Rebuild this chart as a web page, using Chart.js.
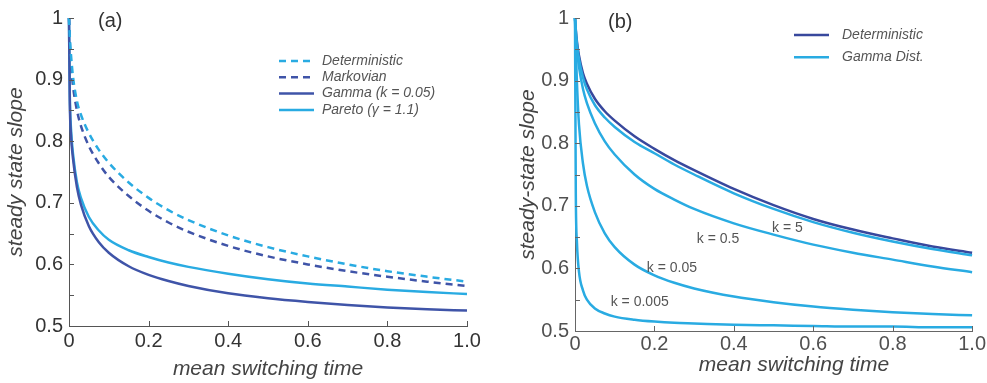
<!DOCTYPE html>
<html><head><meta charset="utf-8">
<script src="https://cdn.jsdelivr.net/npm/chart.js@4.4.1/dist/chart.umd.min.js"></script>
<style>
html,body{margin:0;padding:0;background:#fff;width:987px;height:383px;overflow:hidden}
#wa{position:absolute;left:0;top:0;width:490px;height:383px}
#wb{position:absolute;left:495px;top:0;width:492px;height:383px}
</style></head><body>
<div id="wa"><canvas id="ca" width="490" height="383"></canvas></div>
<div id="wb"><canvas id="cb" width="492" height="383"></canvas></div>
<script>
// ---- data (x = mean switching time, y = steady state slope) ----
const xGrid = [0, 0.002, 0.005, 0.01, 0.02, 0.03, 0.05, 0.075, 0.1, 0.15, 0.2, 0.25, 0.3, 0.4, 0.5, 0.6, 0.7, 0.8, 0.9, 1.0];

// panel (a)
const detA    = [1, 0.97, 0.94, 0.905, 0.865, 0.843, 0.813, 0.786, 0.765, 0.733, 0.708, 0.688, 0.672, 0.647, 0.628, 0.613, 0.600, 0.589, 0.580, 0.572];
const markA   = [1, 0.96, 0.925, 0.89, 0.85, 0.825, 0.792, 0.764, 0.742, 0.711, 0.687, 0.668, 0.653, 0.630, 0.613, 0.600, 0.589, 0.580, 0.572, 0.565];
const gammaA  = [1, 0.865, 0.81, 0.772, 0.725, 0.697, 0.662, 0.636, 0.619, 0.597, 0.583, 0.573, 0.565, 0.553, 0.545, 0.539, 0.534, 0.530, 0.527, 0.525];
const paretoA = [1, 0.875, 0.82, 0.78, 0.733, 0.708, 0.677, 0.655, 0.640, 0.623, 0.612, 0.603, 0.596, 0.585, 0.576, 0.569, 0.564, 0.559, 0.555, 0.552];
const legendA = ['Deterministic', 'Markovian', 'Gamma (k = 0.05)', 'Pareto (\u03B3 = 1.1)'];

// panel (b)
const detB  = [1, 0.982, 0.962, 0.94, 0.912, 0.895, 0.871, 0.851, 0.836, 0.811, 0.791, 0.773, 0.757, 0.727, 0.701, 0.679, 0.662, 0.648, 0.635, 0.625];
const k5    = [1, 0.98, 0.958, 0.935, 0.905, 0.886, 0.861, 0.841, 0.826, 0.802, 0.784, 0.766, 0.750, 0.720, 0.695, 0.674, 0.657, 0.643, 0.631, 0.621];
const k05   = [1, 0.972, 0.948, 0.922, 0.887, 0.864, 0.832, 0.803, 0.782, 0.750, 0.727, 0.710, 0.695, 0.672, 0.654, 0.638, 0.625, 0.614, 0.603, 0.594];
const k005  = [1, 0.95, 0.895, 0.83, 0.768, 0.732, 0.69, 0.656, 0.634, 0.606, 0.589, 0.577, 0.568, 0.555, 0.546, 0.539, 0.534, 0.530, 0.527, 0.525];
const k0005 = [1, 0.72, 0.64, 0.595, 0.565, 0.55, 0.536, 0.528, 0.523, 0.518, 0.515, 0.513, 0.512, 0.510, 0.509, 0.508, 0.507, 0.507, 0.506, 0.506];
const legendB = ['Deterministic', 'Gamma Dist.'];
const curveLabels  = ['k = 5', 'k = 0.5', 'k = 0.05', 'k = 0.005'];
const curveLabelX  = [0.535, 0.36, 0.244, 0.163];
const curveLabelY  = [0.664, 0.646, 0.600, 0.546];

// tick labels
const xTickLabels = ['0', '0.2', '0.4', '0.6', '0.8', '1.0'];
const yTickLabels = ['0.5', '0.6', '0.7', '0.8', '0.9', '1'];

// ---- styling ----
const FONT = "'Liberation Sans', Arial, Helvetica, sans-serif";
const DARK = '#3f54a8', DARKB = '#38489d', LIGHT = '#29abe2';
Chart.defaults.font.family = FONT;

function pts(ys) { return xGrid.map((x, i) => ({ x: x, y: ys[i] })); }

const innerTicks = {
  id: 'innerTicks',
  afterDraw(chart, args, o) {
    const { ctx, chartArea: a, scales: { x, y } } = chart;
    ctx.save();
    ctx.strokeStyle = o.color; ctx.lineWidth = 1;
    ctx.beginPath();
    y.ticks.forEach(t => { const py = Math.round(y.getPixelForValue(t.value)) + 0.5; ctx.moveTo(a.left, py); ctx.lineTo(a.left + 5, py); });
    x.ticks.forEach(t => { const px = Math.round(x.getPixelForValue(t.value)) + 0.5; ctx.moveTo(px, a.bottom); ctx.lineTo(px, a.bottom - 5); });
    ctx.stroke();
    ctx.restore();
  }
};

const extras = {
  id: 'extras',
  afterDraw(chart, args, o) {
    const ctx = chart.ctx;
    ctx.save();
    // panel tag
    ctx.font = '20px ' + FONT; ctx.fillStyle = '#333'; ctx.textBaseline = 'middle'; ctx.textAlign = 'left';
    ctx.fillText(o.tag, o.tagX, o.tagY);
    // legend
    ctx.font = 'italic 14px ' + FONT;
    o.legend.forEach((txt, i) => {
      const ds = chart.data.datasets[o.legendDs[i]];
      const yy = o.ly + i * o.ldy;
      ctx.strokeStyle = ds.borderColor; ctx.lineWidth = ds.borderWidth;
      ctx.setLineDash(ds.borderDash || []);
      ctx.beginPath(); ctx.moveTo(o.lx1, yy); ctx.lineTo(o.lx2, yy); ctx.stroke();
      ctx.setLineDash([]);
      ctx.fillStyle = '#555';
      ctx.fillText(txt, o.tx, yy);
    });
    // curve labels
    if (o.curveLabels) {
      const { x, y } = chart.scales;
      ctx.font = '14px ' + FONT; ctx.fillStyle = '#555'; ctx.textAlign = 'center';
      o.curveLabels.forEach((t, i) => {
        ctx.fillText(t, x.getPixelForValue(curveLabelX[i]), y.getPixelForValue(curveLabelY[i]));
      });
    }
    ctx.restore();
  }
};

function makeChart(id, datasets, p) {
  return new Chart(document.getElementById(id), {
    type: 'scatter',
    data: { datasets: datasets },
    plugins: [innerTicks, extras],
    options: {
      responsive: false, animation: false, devicePixelRatio: 1,
      layout: { padding: { left: 0, right: p.padR, top: p.padT, bottom: 0 } },
      elements: { point: { radius: 0, hoverRadius: 0 }, line: { cubicInterpolationMode: 'monotone', fill: false } },
      plugins: {
        legend: { display: false }, tooltip: { enabled: false },
        innerTicks: { color: p.axisColor },
        extras: p.extras
      },
      scales: {
        x: {
          type: 'linear', min: 0, max: 1,
          afterFit: s => { s.height = p.xH; },
          border: { display: true, color: p.axisColor, width: 1 },
          grid: { display: true, drawOnChartArea: false, drawTicks: false },
          ticks: { stepSize: 0.2, padding: p.xPad, color: p.tickColor, font: { size: 20 }, maxRotation: 0,
                   callback: (v) => xTickLabels[Math.round(v * 5)] },
          title: { display: true, text: p.xTitle, color: '#444', font: { size: 21, style: 'italic' }, padding: { top: 0, bottom: p.xTitlePad } }
        },
        y: {
          type: 'linear', min: 0.5, max: 1,
          afterFit: s => { s.width = p.yW; },
          border: { display: true, color: p.axisColor, width: 1 },
          grid: { display: true, drawOnChartArea: false, drawTicks: false },
          ticks: { stepSize: 0.05, padding: 6, color: p.tickColor, font: { size: 20 },
                   callback: (v) => { const n = Math.round(v * 100); return n % 10 === 0 ? yTickLabels[(n - 50) / 10] : ''; } },
          title: { display: true, text: p.yTitle, color: '#444', font: { size: 21, style: 'italic' }, padding: { top: p.yTitlePad, bottom: 0 } }
        }
      }
    }
  });
}

const lineA = (label, ys, color, dash) => ({ label, data: pts(ys), showLine: true, borderColor: color, borderWidth: 2.5, borderDash: dash, clip: 4 });

makeChart('ca', [
  lineA('Deterministic', detA, LIGHT, [7, 5]),
  lineA('Markovian', markA, DARK, [7, 5]),
  lineA('Gamma (k = 0.05)', gammaA, DARK, []),
  lineA('Pareto (\u03B3 = 1.1)', paretoA, LIGHT, [])
], {
  padR: 23, padT: 12, xH: 57, yW: 69, xPad: 3, xTitlePad: 1, yTitlePad: 4,
  axisColor: '#555', tickColor: '#333',
  xTitle: 'mean switching time', yTitle: 'steady state slope',
  extras: { tag: '(a)', tagX: 98, tagY: 21, legend: legendA, legendDs: [0, 1, 2, 3],
            ly: 61, ldy: 16.3, lx1: 279, lx2: 314, tx: 322 }
});

makeChart('cb', [
  lineA('k = 0.005', k0005, LIGHT, []),
  lineA('k = 0.05', k005, LIGHT, []),
  lineA('k = 0.5', k05, LIGHT, []),
  lineA('k = 5', k5, LIGHT, []),
  lineA('Deterministic', detB, DARKB, [])
], {
  padR: 14, padT: 16, xH: 52, yW: 80, xPad: 1, xTitlePad: 5, yTitlePad: 21,
  axisColor: '#666', tickColor: '#505050',
  xTitle: '       mean switching time', yTitle: 'steady-state slope',
  extras: { tag: '(b)', tagX: 113, tagY: 22, legend: legendB, legendDs: [4, 3],
            ly: 35, ldy: 22.3, lx1: 299, lx2: 334, tx: 347, curveLabels: curveLabels }
});
</script>
</body></html>
